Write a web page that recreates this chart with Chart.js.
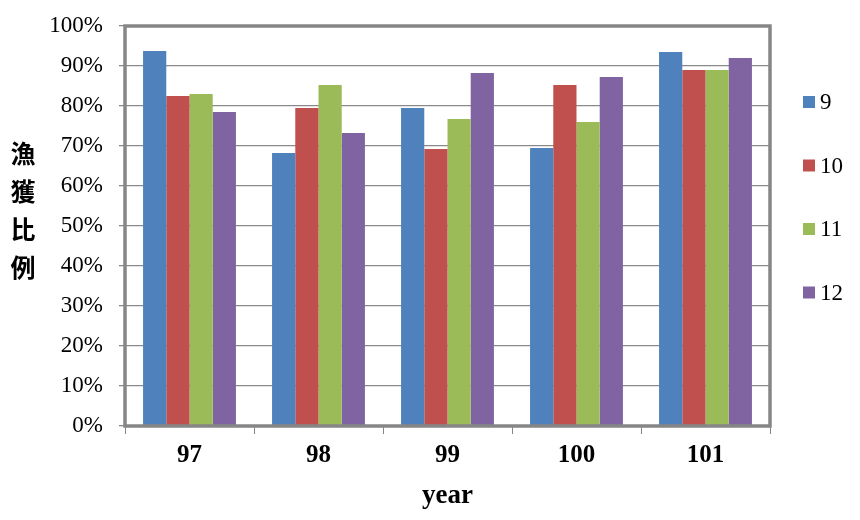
<!DOCTYPE html>
<html>
<head>
<meta charset="utf-8">
<script src="https://cdn.jsdelivr.net/npm/chart.js@4"></script>
<style>
html,body{margin:0;padding:0;background:#fff;}
#wrap{width:860px;height:520px;}
</style>
</head>
<body>
<div id="wrap"><canvas id="c" width="860" height="520"></canvas></div>
<script>
const categories = ['97', '98', '99', '100', '101'];
const seriesNames = ['9', '10', '11', '12'];
const s9  = [93.75, 68.25, 79.5, 69.5, 93.5];
const s10 = [82.5, 79.5, 69.25, 85.25, 89];
const s11 = [83, 85.25, 76.75, 76, 89];
const s12 = [78.5, 73.25, 88.25, 87.25, 92];
const colors = ['#4F81BD', '#C0504D', '#9BBB59', '#8064A2'];
const yTitleChars = ['漁', '獲', '比', '例'];
const xTitle = 'year';

const serif = '"Liberation Serif", "Times New Roman", serif';

const frame = {
  id: 'frame',
  afterDatasetsDraw(chart) {
    const {ctx, chartArea: a} = chart;
    ctx.save();
    ctx.strokeStyle = '#868686';
    ctx.lineWidth = 3.5;
    ctx.strokeRect(a.left, a.top, a.right - a.left, a.bottom - a.top);
    ctx.restore();
  },
  afterDraw(chart) {
    const {ctx} = chart;
    ctx.save();
    // legend
    ctx.font = '23px ' + serif;
    ctx.textBaseline = 'middle';
    ctx.textAlign = 'left';
    chart.data.datasets.forEach((ds, i) => {
      const y = 102 + i * 63.5;
      ctx.fillStyle = ds.backgroundColor;
      ctx.fillRect(803, y - 6, 12, 12);
      ctx.fillStyle = '#000';
      ctx.fillText(ds.label, 820, y + 1);
    });
    // vertical y title
    ctx.font = 'bold 25px "Noto Sans CJK TC", sans-serif';
    ctx.textAlign = 'center';
    ctx.fillStyle = '#000';
    yTitleChars.forEach((ch, i) => {
      ctx.fillText(ch, 23, 153 + i * 38.3);
    });
    ctx.restore();
  }
};

const datasets = [s9, s10, s11, s12].map((d, i) => ({
  label: seriesNames[i],
  data: d,
  backgroundColor: colors[i],
  borderWidth: 0,
  categoryPercentage: 0.72,
  barPercentage: 1.0
}));

new Chart(document.getElementById('c'), {
  type: 'bar',
  data: { labels: categories, datasets },
  plugins: [frame],
  options: {
    responsive: false,
    animation: false,
    layout: { padding: { top: 26, right: 90, left: 0, bottom: 0 } },
    plugins: { legend: { display: false }, tooltip: { enabled: false } },
    scales: {
      x: {
        afterFit(scale) { scale.height = 94; },
        grid: { drawOnChartArea: false, color: '#868686', tickLength: 8, lineWidth: 1 },
        border: { display: false },
        ticks: { color: '#000', font: { family: serif, size: 25, weight: 'bold' }, padding: 7 },
        title: { display: true, text: xTitle, color: '#000', font: { family: serif, size: 27, weight: 'bold' }, padding: { top: 0, bottom: 8 } }
      },
      y: {
        min: 0, max: 100,
        afterFit(scale) { scale.width = 125; scale.paddingTop = 0; scale.paddingBottom = 0; },
        grid: { color: '#8a8a8a', tickLength: 6, lineWidth: 1.3 },
        border: { display: false },
        ticks: { stepSize: 10, color: '#000', padding: 16, font: { family: serif, size: 23 }, callback: v => v + '%' }
      }
    }
  }
});
</script>
</body>
</html>
